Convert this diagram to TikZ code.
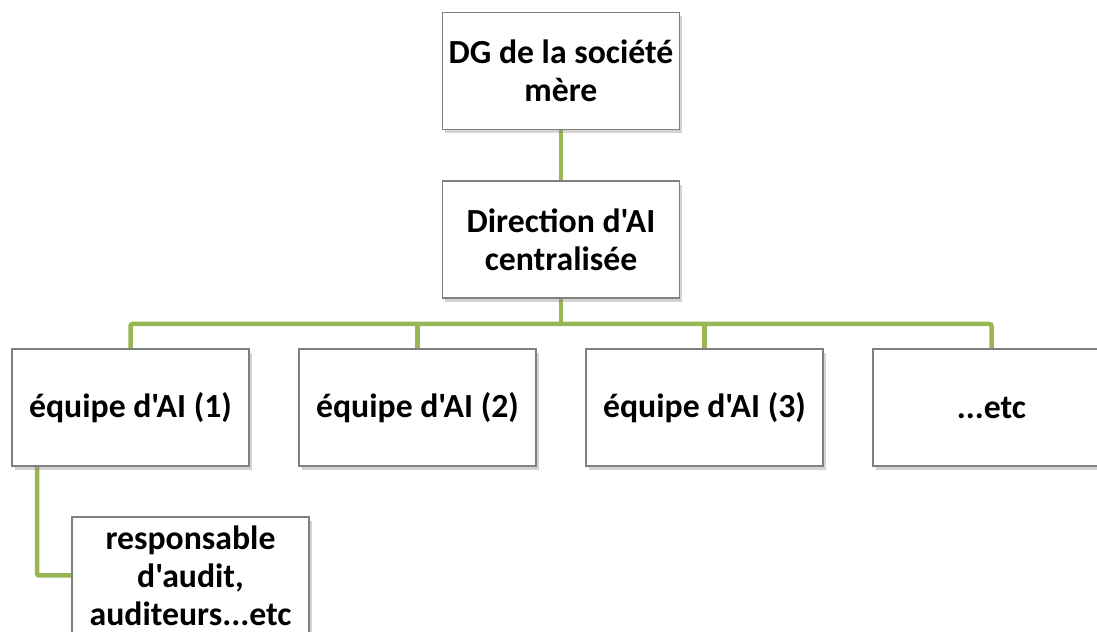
\documentclass[tikz,border=0pt]{standalone}
\usepackage{fontspec}
\setmainfont{Carlito}[Ligatures=TeXOff]
\usetikzlibrary{shadows}
\definecolor{linkgreen}{RGB}{150,183,84}
\definecolor{boxgray}{RGB}{128,128,128}
\tikzset{
    orgbox/.style={draw=boxgray,line width=0.8pt,fill=white,minimum width=5.925cm,
        minimum height=2.925cm,align=center,inner sep=1pt,
        font=\fontsize{24}{27}\selectfont\bfseries,
        drop shadow={shadow xshift=2pt,shadow yshift=-2.5pt,opacity=0.35}},
    link/.style={draw=linkgreen,line width=3.2pt,rounded corners=1.5pt}
}
\begin{document}
\begin{tikzpicture}
        \useasboundingbox (0,0) rectangle (27.425,15.8);
        \coordinate (bus) at (14.025,7.7);
        \coordinate (turn) at (0.925,1.4125);

        % links first, boxes drawn on top
        \draw[link] (14.025,14.025) -- (14.025,9.8125);
        \draw[link] (14.025,9.8125) -- (bus);
        \draw[link] (3.2625,5.6125) |- (bus) -| (24.7875,5.6125);
        \draw[link] (10.4375,5.6125) -- (10.4375,7.7);
        \draw[link] (17.6125,5.6125) -- (17.6125,7.7);
        \draw[link] (0.925,5.6125) -- (turn) -- (4.7625,1.4125);

        % boxes
        \node[orgbox] (dg) at (14.025,14.025) {DG de la société\\mère};
        \node[orgbox] (dai) at (14.025,9.8125) {Direction d'AI\\centralisée};
        \node[orgbox] (eq1) at (3.2625,5.6125) {équipe d'AI (1)};
        \node[orgbox] (eq2) at (10.4375,5.6125) {équipe d'AI (2)};
        \node[orgbox] (eq3) at (17.6125,5.6125) {équipe d'AI (3)};
        \node[orgbox] (etc) at (24.7875,5.6125) {...etc};
        \node[orgbox] (resp) at (4.7625,1.4125) {responsable\\d'audit,\\auditeurs...etc};
    \end{tikzpicture}
\end{document}
